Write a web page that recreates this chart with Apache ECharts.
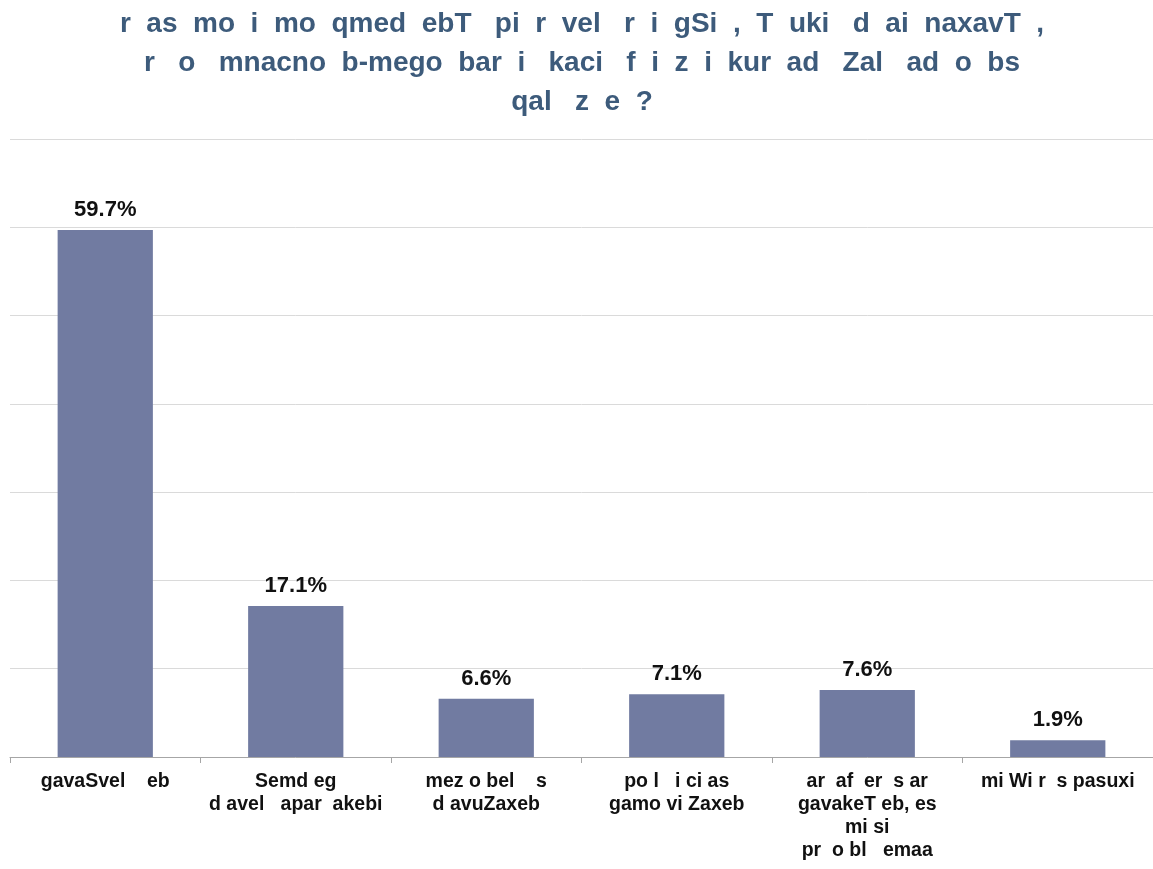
<!DOCTYPE html>
<html>
<head>
<meta charset="utf-8">
<script src="https://cdn.jsdelivr.net/npm/echarts@6/dist/echarts.min.js"></script>
<style>
html,body{margin:0;padding:0;background:#fff;}
#chart{width:1153px;height:869px;}
</style>
</head>
<body>
<div id="chart"></div>
<script>
const titleLines = [
  "r  as  mo  i  mo  qmed  ebT   pi  r  vel   r  i  gSi  ,  T  uki   d  ai  naxavT  ,",
  "r   o   mnacno  b-mego  bar  i   kaci   f  i  z  i  kur  ad   Zal   ad  o  bs",
  "qal   z  e  ?"
];
const categories = [
  "gavaSvel    eb",
  "Semd eg\nd avel   apar  akebi",
  "mez o bel    s\nd avuZaxeb",
  "po l   i ci as\ngamo vi Zaxeb",
  "ar  af  er  s ar\ngavakeT eb, es\nmi si\npr  o bl   emaa",
  "mi Wi r  s pasuxi"
];
const values = [59.7, 17.1, 6.6, 7.1, 7.6, 1.9];
const yMax = 70;
const yInterval = 10;

const sans = "'Liberation Sans', Arial, sans-serif";
const chart = echarts.init(document.getElementById('chart'), null, {renderer: 'canvas'});
chart.setOption({
  animation: false,
  backgroundColor: '#ffffff',
  title: {
    text: titleLines.join('\n'),
    left: 577,
    top: 0,
    textAlign: 'center',
    textStyle: {
      fontFamily: sans,
      fontSize: 28,
      fontWeight: 'bold',
      color: '#3d5b7b',
      lineHeight: 39,
      align: 'center'
    }
  },
  grid: {left: 10, right: 0, top: 139, bottom: 112, containLabel: false},
  xAxis: {
    type: 'category',
    data: categories,
    axisLine: {lineStyle: {color: '#a6a6a6', width: 1}},
    axisTick: {show: true, length: 6, lineStyle: {color: '#a6a6a6'}},
    axisLabel: {
      interval: 0,
      margin: 13,
      fontFamily: sans,
      fontSize: 19.5,
      fontWeight: 'bold',
      color: '#111111',
      lineHeight: 23
    }
  },
  yAxis: {
    type: 'value',
    min: 0,
    max: yMax,
    interval: yInterval,
    axisLabel: {show: false},
    axisLine: {show: false},
    axisTick: {show: false},
    splitLine: {lineStyle: {color: '#dadada', width: 1}}
  },
  series: [{
    type: 'bar',
    data: values,
    barWidth: '50%',
    itemStyle: {color: '#717ba1'},
    label: {
      show: true,
      position: 'top',
      distance: 9,
      formatter: p => p.value.toFixed(1) + '%',
      fontFamily: sans,
      fontSize: 22,
      fontWeight: 'bold',
      color: '#111111'
    }
  }]
});
</script>
</body>
</html>
